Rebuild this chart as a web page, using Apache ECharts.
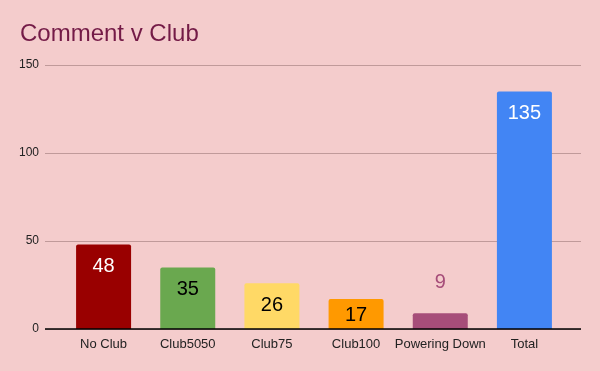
<!DOCTYPE html>
<html><head><meta charset="utf-8">
<script src="https://cdn.jsdelivr.net/npm/echarts@6/dist/echarts.min.js"></script>
<style>html,body{margin:0;padding:0;background:#f4cccc}#c{width:600px;height:371px}</style>
</head><body><div id="c"></div>
<script>
const categories = ['No Club', 'Club5050', 'Club75', 'Club100', 'Powering Down', 'Total'];
const values = [48, 35, 26, 17, 9, 135];
const yTicks = [0, 50, 100, 150];

const barColors = ['#990000', '#6aa84f', '#ffd966', '#ff9900', '#a64d79', '#4285f4'];
const labelColors = ['#ffffff', '#000000', '#000000', '#000000', '#a64d79', '#ffffff'];
const labelInside = [true, true, true, true, false, true];
const labelDistance = [12, 12, 12, 6.5, 21, 12];

const chart = echarts.init(document.getElementById('c'));
const font = '"Liberation Sans", Arial, sans-serif';
const yMin = yTicks[0], yMax = yTicks[yTicks.length - 1], yStep = yTicks[1] - yTicks[0];

chart.setOption({
  backgroundColor: '#f4cccc',
  animation: false,
  title: {
    text: 'Comment v Club', left: 20, top: 22, padding: 0,
    textStyle: { color: '#741b47', fontSize: 24, fontWeight: 'normal', fontFamily: font }
  },
  grid: [
    { left: 45, right: 19, top: 65, bottom: 42 },
    { left: 61.5, right: 33.5, top: 65, bottom: 42 }
  ],
  xAxis: [
    { gridIndex: 0, type: 'category', data: categories, show: false },
    {
      gridIndex: 1, type: 'category', data: categories,
      axisTick: { show: false }, axisLine: { show: false },
      axisLabel: { color: '#222', fontSize: 13, fontFamily: font, margin: 9, interval: 0 }
    }
  ],
  yAxis: [
    {
      gridIndex: 0, type: 'value', min: yMin, max: yMax, interval: yStep,
      axisLine: { show: false }, axisTick: { show: false },
      axisLabel: { color: '#222', fontSize: 12, fontFamily: font, margin: 6 },
      splitLine: { lineStyle: { color: '#c09a9a', width: 1 } }
    },
    { gridIndex: 1, type: 'value', min: yMin, max: yMax, interval: yStep, show: false, splitLine: { show: false } }
  ],
  series: [
    {
      type: 'line', xAxisIndex: 0, yAxisIndex: 0, data: [], silent: true,
      markLine: {
        silent: true, symbol: 'none', label: { show: false },
        lineStyle: { color: '#000', width: 1.5, type: 'solid' },
        data: [{ yAxis: 0 }]
      }
    },
    {
      type: 'bar', xAxisIndex: 1, yAxisIndex: 1, barWidth: 55,
      data: values.map((v, i) => ({
        value: v,
        itemStyle: { color: barColors[i], borderRadius: [2, 2, 0, 0] },
        label: {
          show: true,
          position: labelInside[i] ? 'insideTop' : 'top',
          distance: labelDistance[i],
          color: labelColors[i],
          fontSize: 20, fontFamily: font
        }
      }))
    }
  ]
});
</script></body></html>
